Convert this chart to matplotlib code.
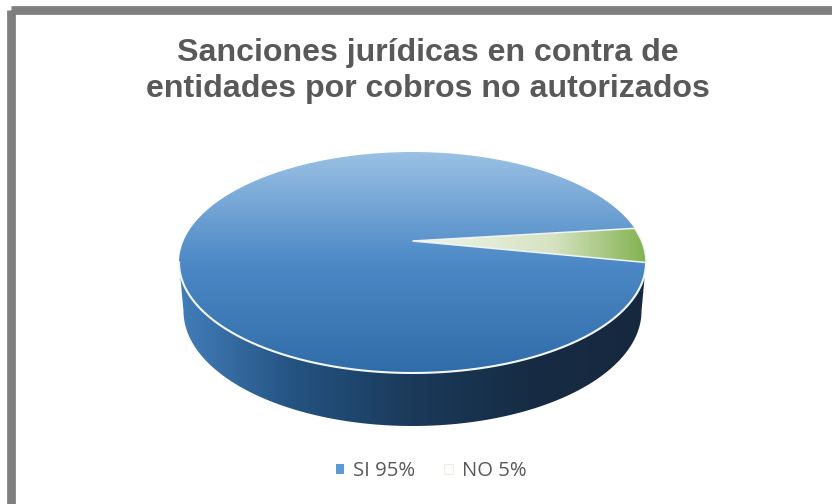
#!/usr/bin/env python3
"""Pie chart with a 3D look: sanctions against entities for unauthorised charges."""

import numpy as np
import matplotlib
matplotlib.use('Agg')
import matplotlib.pyplot as plt
from matplotlib.patches import PathPatch, Rectangle, Patch
from matplotlib.path import Path

categories = ['SI', 'NO']
shares = [95, 5]
title_lines = ['Sanciones jurídicas en contra de', 'entidades por cobros no autorizados']

# pie geometry in pixels
CX, CY = 412.5, 262.5
RX, RY = 233.5, 110.5
APEX_Y = 241.0
BASE_CY, BASE_RX, BASE_RY = 311.0, 229.0, 115.0
TEXT_GREY = '#595959'


def gradient(ax, clip, extent, stops, colors, axis='y', zorder=1):
    """Paint a linear gradient through a clipping patch."""
    x0, x1, y0, y1 = extent
    n = 400
    pos = np.linspace(0, 1, n)
    rgb = np.array(colors, dtype=float) / 255
    ramp = np.stack([np.interp(pos, stops, rgb[:, i]) for i in range(3)], axis=1)
    img = ramp[:, None, :] if axis == 'y' else ramp[None, :, :]
    im = ax.imshow(img, extent=(x0, x1, y1, y0), origin='upper', aspect='auto',
                   interpolation='bilinear', zorder=zorder)
    ax.add_patch(clip)
    clip.set_visible(False)
    im.set_clip_path(clip)


def rim_point(theta):
    """Point on the top ellipse; theta in degrees, counter-clockwise from the right."""
    t = np.radians(theta)
    return CX + RX * np.cos(t), CY - RY * np.sin(t)


def slice_path(theta0, theta1):
    """Closed slice running from the off-centre apex round the rim."""
    ts = np.linspace(theta0, theta1, 240)
    xs, ys = rim_point(ts)
    verts = [(CX, APEX_Y)] + list(zip(xs, ys)) + [(CX, APEX_Y)]
    return Path(verts, closed=True)


fig = plt.figure(figsize=(8.32, 5.04), dpi=100)
ax = fig.add_axes([0, 0, 1, 1])
ax.set_xlim(0, 832)
ax.set_ylim(504, 0)
ax.axis('off')

# frame runs off the right and bottom edges
ax.add_patch(Rectangle((11, 9.5), 900, 600, fill=False, edgecolor='#7f7f7f',
                       linewidth=6.3, joinstyle='round', zorder=0))

# side wall: lower half of the top face swept down onto the base ellipse
ts = np.radians(np.linspace(0, -180, 300))
top_edge = np.column_stack([CX + RX * np.cos(ts), CY - RY * np.sin(ts)])
base_edge = np.column_stack([CX + BASE_RX * np.cos(ts), BASE_CY - BASE_RY * np.sin(ts)])
wall = Path(np.vstack([top_edge, base_edge[::-1], top_edge[:1]]), closed=True)
gradient(ax, PathPatch(wall, transform=ax.transData),
         (CX - RX, CX + RX, CY, BASE_CY + BASE_RY),
         [0, 0.25, 0.5, 0.75, 1],
         [(66, 126, 186), (36, 82, 128), (27, 58, 90), (22, 44, 68), (22, 40, 62)],
         axis='x', zorder=1)

# slices, starting at the right of the ellipse and going counter-clockwise
no_sweep = 360 * shares[1] / sum(shares)
si_path = slice_path(no_sweep, 360)
no_path = slice_path(0, no_sweep)

gradient(ax, PathPatch(si_path, transform=ax.transData),
         (CX - RX, CX + RX, CY - RY, CY + RY),
         [0, 0.5, 1],
         [(155, 193, 228), (76, 137, 198), (48, 108, 168)], zorder=2)
gradient(ax, PathPatch(no_path, transform=ax.transData),
         (CX, CX + RX, CY - RY, CY + RY),
         [0, 0.6, 1],
         [(242, 245, 236), (214, 227, 194), (130, 178, 78)], axis='x', zorder=2)

# light edges between slices and round the front of the rim
ax.add_patch(PathPatch(no_path, fill=False, edgecolor='#eef3f6', linewidth=1.1, zorder=3))
ax.plot(top_edge[:, 0], top_edge[:, 1], color='#f4f7f9', linewidth=1.5, zorder=3)

# title, two lines set separately for exact baselines
ax.text(428, 60.5, title_lines[0], ha='center', va='baseline', fontsize=23.1, fontweight='bold',
        family='Liberation Sans', color=TEXT_GREY)
ax.text(428, 97.5, title_lines[1], ha='center', va='baseline', fontsize=23.1, fontweight='bold',
        family='Liberation Sans', color=TEXT_GREY)

handles = [Patch(facecolor='#5b9bd5', edgecolor='none'),
           Patch(facecolor='#fbfdf8', edgecolor='#e4eedd', linewidth=0.6)]
labels = [f'{c} {v}%' for c, v in zip(categories, shares)]
ax.legend(handles, labels, ncol=2, frameon=False, loc='center', bbox_to_anchor=(431 / 832, 1 - 471 / 504),
          prop={'family': 'Open Sans', 'size': 14.6}, labelcolor=TEXT_GREY,
          handlelength=0.4, handleheight=0.4, handletextpad=0.45, columnspacing=1.45)

fig.savefig('out.png', dpi=100, facecolor='white')
